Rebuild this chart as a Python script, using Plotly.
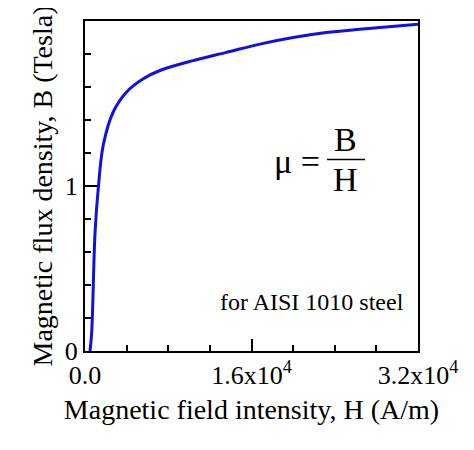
import plotly.graph_objects as go

H = [480, 640, 960, 1280, 1760, 2720, 4000, 5600, 7200, 10400, 13600, 16800, 20000, 23200, 26400, 32000]
B = [0.0, 0.11, 0.71, 0.99, 1.25, 1.45, 1.57, 1.65, 1.70, 1.76, 1.81, 1.86, 1.90, 1.93, 1.95, 1.98]

x_ticks = [0, 16000, 32000]
x_labels = ["0.0", "1.6x10<sup>4</sup>", "3.2x10<sup>4</sup>"]
y_ticks = [0, 1, 2]

font = "Liberation Serif"
fig = go.Figure(go.Scatter(x=H, y=B, mode="lines", line=dict(color="#1010e0", width=3, shape="spline"),
                           cliponaxis=False))

axis_common = dict(showline=True, linecolor="black", linewidth=2, mirror=True, showgrid=False,
                   zeroline=False, ticks="inside", ticklen=12, tickwidth=1.5, tickcolor="black",
                   tickfont=dict(family=font, size=26, color="black"))
fig.update_xaxes(range=[0, 32000], tickvals=x_ticks, ticktext=x_labels,
                 minor=dict(dtick=4000, ticks="inside", ticklen=6, tickcolor="black"),
                 title=dict(text="Magnetic field intensity, H (A/m)", font=dict(family=font, size=28, color="black"), standoff=10),
                 **axis_common)
fig.update_yaxes(range=[0, 2], tickvals=y_ticks,
                 minor=dict(dtick=0.2, ticks="inside", ticklen=6, tickcolor="black"),
                 title=dict(text="Magnetic flux density, B (Tesla)", font=dict(family=font, size=28, color="black"), standoff=4),
                 **axis_common)

fig.add_annotation(x=20400, y=1.15, text="μ =", showarrow=False, font=dict(family=font, size=34, color="black"))
fig.add_annotation(x=25080, y=1.28, text="B", showarrow=False, font=dict(family=font, size=34, color="black"))
fig.add_annotation(x=25080, y=1.04, text="H", showarrow=False, font=dict(family=font, size=34, color="black"))
fig.add_shape(type="line", x0=23250, x1=26900, y0=1.16, y1=1.16, line=dict(color="black", width=1.5))
fig.add_annotation(x=21800, y=0.30, text="for AISI 1010 steel", showarrow=False, font=dict(family=font, size=24, color="black"))

fig.update_layout(width=474, height=450, margin=dict(l=77, r=64, t=11, b=107),
                  plot_bgcolor="white", paper_bgcolor="white", showlegend=False)
fig.write_html("out.html")
